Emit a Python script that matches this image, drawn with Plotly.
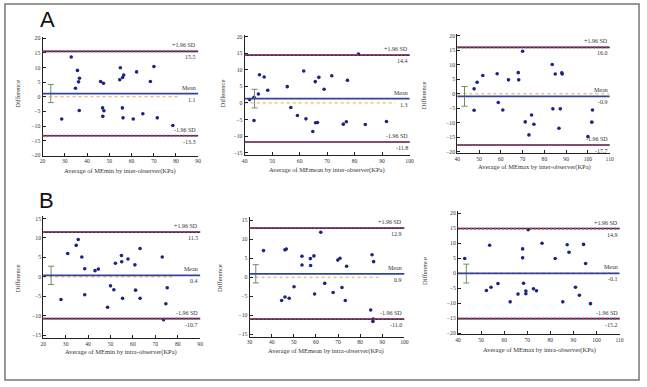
import plotly.graph_objects as go

W, H = 647, 387

# ---------------- data ----------------
p1_x = [32.9, 35.7, 36.6, 36.2, 34.8, 36.5, 28.6, 46.1, 47.4, 47.0, 47.6, 47.1, 55.0, 54.7, 56.0, 56.5,
        55.9, 56.2, 62.3, 60.8, 65.1, 70.1, 68.5, 71.6, 78.6]
p1_y = [13.6, 9.0, 6.3, 5.1, 2.9, -4.7, -7.6, 5.2, 4.6, -3.8, -4.8, -6.7, 9.9, 5.8, 6.6, 7.4,
        -3.8, -7.2, 8.5, -7.6, -5.8, 10.3, 5.2, -7.2, -9.8]

p2_x = [41.8, 43.4, 43.4, 45.0, 45.4, 47.1, 48.4, 55.5, 56.8, 59.2, 61.5, 62.3, 64.8, 65.7, 67.0, 65.8,
        66.5, 68.9, 71.7, 75.9, 77.0, 77.4, 81.4, 83.9, 91.6]
p2_y = [1.0, 1.7, -5.3, 2.7, 8.5, 7.8, 3.8, 4.9, -1.4, -3.8, 9.6, -4.8, -8.6, 6.4, 7.7, -6.0,
        -5.9, 4.1, 8.2, -6.4, -5.7, 6.8, 14.7, -6.5, -5.6]

p3_x = [47.7, 47.7, 49.1, 51.7, 58.3, 58.8, 60.9, 63.5, 68.0, 68.2, 70.0, 71.2, 72.9, 74.1, 75.2, 83.6,
        85.0, 83.9, 87.3, 86.7, 88.0, 88.2, 100.0, 102.1, 101.8]
p3_y = [1.7, -5.7, 4.0, 6.3, 6.9, -3.0, -5.6, 4.8, 7.3, 4.8, 14.7, -9.7, -14.2, -7.3, -10.5, 10.1,
        6.8, -5.2, -5.2, -11.9, 7.2, 6.8, -14.8, -5.6, -9.8]

p4_x = [30.9, 34.7, 35.6, 37.2, 38.5, 38.5, 27.9, 43.1, 44.6, 48.7, 50.0, 51.5, 52.2, 54.9, 55.0, 55.4,
        57.8, 60.9, 61.2, 63.2, 63.2, 73.1, 73.7, 74.7, 75.3]
p4_y = [6.0, 8.1, 9.6, 5.1, 2.1, -4.6, -5.8, 1.6, 2.0, -7.8, -2.3, -3.3, 3.5, 5.5, 3.9, -5.5,
        4.6, 3.1, -3.4, 7.3, -5.5, 5.1, -11.0, -6.9, -2.8]

p5_x = [36.3, 46.0, 46.6, 44.5, 46.0, 47.9, 50.1, 53.7, 53.7, 57.5, 57.6, 59.1, 59.4, 62.2, 64.0, 67.8,
        69.9, 70.9, 71.8, 73.3, 73.9, 84.8, 85.4, 86.1, 86.0, 85.8]
p5_y = [7.0, 7.2, 7.4, -6.1, -5.2, -5.5, -2.5, 5.5, 3.2, 4.9, 3.1, 5.6, -4.4, 11.8, -1.6, -4.0,
        4.5, 5.0, -2.7, -6.1, 2.9, -8.6, 5.9, 4.1, -11.0, -11.6]

p6_x = [42.9, 53.7, 52.3, 54.3, 57.3, 62.6, 66.0, 68.0, 68.0, 68.4, 69.4, 69.4, 70.4, 72.7, 74.0, 76.4,
        82.1, 85.4, 87.3, 88.1, 90.9, 92.6, 94.4, 95.3, 97.4]
p6_y = [4.9, 9.3, -5.8, -4.7, -3.5, -9.6, -7.0, 8.1, 5.1, -3.4, -6.0, -6.9, 14.5, -5.2, -5.9, 10.0,
        4.9, -9.6, 9.5, 7.0, -4.7, -7.4, 9.6, 3.2, -10.2]

upper_sd = [15.5, 14.4, 16.0, 11.5, 12.9, 14.9]
mean_diff = [1.1, 1.3, -0.9, 0.4, 0.9, -0.1]
lower_sd = [-13.3, -11.8, -17.7, -10.7, -11.0, -15.2]
ci_upper = [4.2, 4.1, 2.5, 2.75, 3.3, 3.0]
ci_lower = [-2.0, -1.5, -4.3, -1.95, -1.5, -3.3]
ci_x = [23.7, 43.6, 43.3, 23.5, 32.8, 43.6]
zero_end = [81.5, 94.8, 109.7, 78.2, 89.3, 110.0]

x_titles = ["Average of MEmin by inter-observer(KPa)",
            "Average of MEmean by inter-observer(KPa)",
            "Average of MEmax by inter-observer(KPa)",
            "Average of MEmin by intra-observer(KPa)",
            "Average of MEmean by intra-observer(KPa)",
            "Average of MEmax by intra-observer(KPa)"]
y_title = "Difference"
panel_letters = ["A", "B"]

xs = [p1_x, p2_x, p3_x, p4_x, p5_x, p6_x]
ys = [p1_y, p2_y, p3_y, p4_y, p5_y, p6_y]

# ---------------- layout geometry (pixels) ----------------
panels = [
    dict(xr=[20, 90], xpx=[40, 197.3], yr=[-20.1, 20.5], ypx=[35.2, 155.6], xt=list(range(20, 91, 10)),
         yt=list(range(-20, 21, 5)), xtitle=(118, 171), ytitle=(15, 93)),
    dict(xr=[40, 100], xpx=[244.3, 411], yr=[-15.7, 20.5], ypx=[33.3, 155.0], xt=list(range(40, 101, 10)),
         yt=list(range(-15, 21, 5)), xtitle=(328, 170), ytitle=(222, 93)),
    dict(xr=[40, 110], xpx=[459.3, 613.3], yr=[-20.45, 20.5], ypx=[32.8, 153.0], xt=list(range(40, 111, 10)),
         yt=list(range(-20, 21, 5)), xtitle=(537, 167), ytitle=(425, 94)),
    dict(xr=[20, 90], xpx=[40.7, 199.3], yr=[-15.76, 15.66], ypx=[216.7, 340.7], xt=list(range(20, 91, 10)),
         yt=list(range(-15, 16, 5)), xtitle=(119, 355), ytitle=(15, 280)),
    dict(xr=[30, 100], xpx=[249.3, 405.7], yr=[-15.6, 15.7], ypx=[218.3, 339.0], xt=list(range(30, 101, 10)),
         yt=list(range(-15, 16, 5)), xtitle=(327, 354), ytitle=(219, 280)),
    dict(xr=[40, 110], xpx=[460, 623.3], yr=[-20.45, 20.8], ypx=[211.6, 336.7], xt=list(range(40, 111, 10)),
         yt=list(range(-20, 21, 5)), xtitle=(542, 353), ytitle=(426, 272)),
]

SERIF = "Liberation Serif"
PT_COLOR = "#1c2580"
MEAN_COLOR = "#33449e"
SD_RED = "#b3354a"
SD_DARK = "#2a2a6a"
ZERO_COLOR = "#e8a545"
CI_COLOR = "#6f8f62"


def px(x):
    return x / W


def py(y):
    return 1 - y / H


fig = go.Figure()
shapes = []
annotations = []

for i, p in enumerate(panels):
    n = "" if i == 0 else str(i + 1)
    xa, ya = "x" + n, "y" + n
    fig.add_trace(go.Scatter(
        x=xs[i], y=ys[i], mode="markers", xaxis=xa, yaxis=ya,
        marker=dict(color=PT_COLOR, size=3.6), showlegend=False, hoverinfo="x+y"))
    # CI error bar for mean
    fig.add_trace(go.Scatter(
        x=[ci_x[i]], y=[mean_diff[i]], mode="markers", xaxis=xa, yaxis=ya,
        marker=dict(size=0.1, color=CI_COLOR, opacity=0),
        error_y=dict(type="data", symmetric=False,
                     array=[ci_upper[i] - mean_diff[i]], arrayminus=[mean_diff[i] - ci_lower[i]],
                     color=CI_COLOR, thickness=1, width=3),
        showlegend=False, hoverinfo="skip"))

    fig.layout[("xaxis" + n)] = dict(
        domain=[px(p["xpx"][0]), px(p["xpx"][1])], range=p["xr"], anchor=ya,
        tickvals=p["xt"], ticks="inside", ticklen=3, tickwidth=1, tickcolor="#222",
        showline=True, linecolor="#222", linewidth=1, showgrid=False, zeroline=False,
        tickfont=dict(family=SERIF, size=5.6, color="#333"))
    fig.layout[("yaxis" + n)] = dict(
        domain=[py(p["ypx"][1]), py(p["ypx"][0])], range=p["yr"], anchor=xa,
        tickvals=p["yt"], ticks="inside", ticklen=3, tickwidth=1, tickcolor="#222",
        showline=True, linecolor="#222", linewidth=1, showgrid=False, zeroline=False,
        tickfont=dict(family=SERIF, size=5.8, color="#333"))

    xd = xa + " domain"
    # zero line
    shapes.append(dict(type="line", xref=xa, yref=ya, x0=p["xr"][0], x1=zero_end[i], y0=0, y1=0,
                       line=dict(color=ZERO_COLOR, width=1, dash="dot"), layer="below"))
    # mean line
    shapes.append(dict(type="line", xref=xd, yref=ya, x0=0, x1=1, y0=mean_diff[i], y1=mean_diff[i],
                       line=dict(color=MEAN_COLOR, width=1.8)))
    # limits of agreement
    for v in (upper_sd[i], lower_sd[i]):
        shapes.append(dict(type="line", xref=xd, yref=ya, x0=0, x1=1, y0=v, y1=v,
                           line=dict(color=SD_DARK, width=1.6)))
        shapes.append(dict(type="line", xref=xd, yref=ya, x0=0, x1=1, y0=v, y1=v,
                           line=dict(color=SD_RED, width=1.8, dash="2px,2px")))

    lab_font = dict(family=SERIF, size=6, color="#333")
    for label, v in (("+1.96 SD", upper_sd[i]), ("Mean", mean_diff[i]), ("-1.96 SD", lower_sd[i])):
        annotations.append(dict(text=label, xref=xd, yref=ya, x=1, y=v, xanchor="right", yanchor="bottom",
                                showarrow=False, font=lab_font, yshift=1))
        annotations.append(dict(text=f"{v:.1f}", xref=xd, yref=ya, x=1, y=v, xanchor="right", yanchor="top",
                                showarrow=False, font=lab_font, yshift=-1))

    # axis titles
    annotations.append(dict(text=x_titles[i], xref="paper", yref="paper",
                            x=px(p["xtitle"][0]), y=py(p["xtitle"][1]), xanchor="center", yanchor="middle",
                            showarrow=False, font=dict(family=SERIF, size=6.5, color="#333")))
    annotations.append(dict(text=y_title, xref="paper", yref="paper", textangle=-90,
                            x=px(p["ytitle"][0]), y=py(p["ytitle"][1]), xanchor="center", yanchor="middle",
                            showarrow=False, font=dict(family=SERIF, size=6.5, color="#333")))

# panel letters
annotations.append(dict(text=panel_letters[0], xref="paper", yref="paper", x=px(45), y=py(18),
                        xanchor="center", yanchor="middle", showarrow=False,
                        font=dict(family="Liberation Sans", size=22, color="#111")))
annotations.append(dict(text=panel_letters[1], xref="paper", yref="paper", x=px(44), y=py(201),
                        xanchor="center", yanchor="middle", showarrow=False,
                        font=dict(family="Liberation Sans", size=22, color="#111")))

# outer frame
shapes.append(dict(type="rect", xref="paper", yref="paper", x0=px(2), x1=px(643), y0=py(383), y1=py(2),
                   line=dict(color="#777", width=1.5)))

fig.update_layout(width=W, height=H, margin=dict(l=0, r=0, t=0, b=0),
                  paper_bgcolor="white", plot_bgcolor="white",
                  shapes=shapes, annotations=annotations, showlegend=False)

fig.write_html("out.html")
